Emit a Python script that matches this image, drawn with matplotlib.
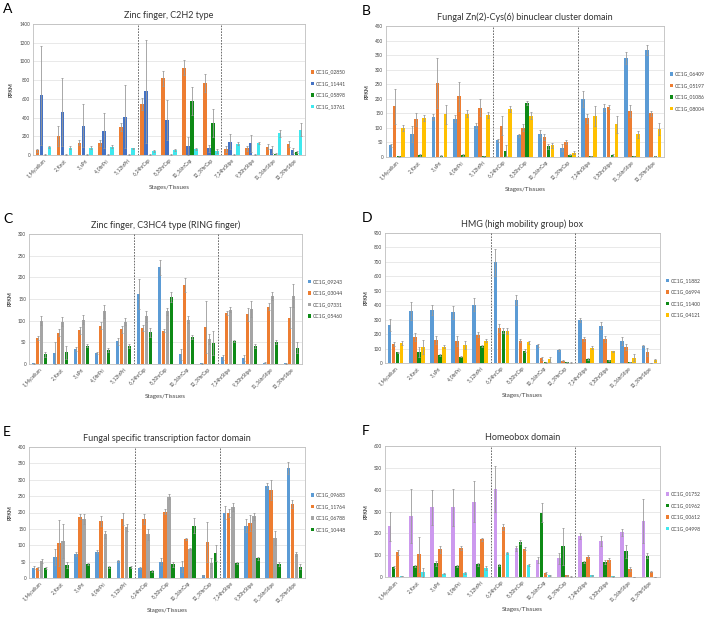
import numpy as np
import matplotlib
matplotlib.use("Agg")
import matplotlib.pyplot as plt

plt.rcParams['font.family'] = ['Lato', 'DejaVu Sans']

stages = ["1_Mycelium", "2_Knot", "3_sPri", "4_0hrPri", "5_12hrPri",
          "6_24hrCap", "8_30hrCap", "10_36hrCap", "12_39hrCap",
          "7_24hrStipe", "9_30hrStipe", "11_36hrStipe", "13_39hrStipe"]

# A: Zinc finger, C2H2 type
a_names = ["CC1G_02850", "CC1G_11441", "CC1G_05898", "CC1G_13761"]
a_vals = [[50, 200, 130, 125, 300, 545, 820, 935, 770, 65, 70, 90, 120],
          [640, 460, 315, 260, 410, 680, 370, 100, 70, 140, 125, 60, 50],
          [5, 5, 5, 5, 5, 5, 5, 575, 340, 5, 5, 15, 30],
          [85, 80, 80, 90, 70, 45, 50, 60, 40, 120, 125, 230, 270]]
a_err = [[15, 105, 25, 30, 40, 65, 80, 75, 95, 30, 25, 25, 30],
         [530, 365, 230, 190, 340, 550, 215, 95, 40, 80, 90, 40, 30],
         [2, 2, 2, 2, 2, 2, 2, 150, 150, 2, 2, 5, 8],
         [10, 20, 15, 15, 10, 10, 10, 10, 20, 15, 10, 35, 70]]

# B: Fungal Zn(2)-Cys(6) binuclear cluster domain
b_names = ["CC1G_06409", "CC1G_05197", "CC1G_01086", "CC1G_08004"]
b_vals = [[40, 80, 138, 132, 108, 57, 75, 80, 32, 200, 170, 340, 368],
          [175, 130, 255, 208, 170, 107, 100, 70, 50, 133, 172, 158, 150],
          [2, 7, 5, 8, 2, 22, 185, 37, 8, 3, 8, 3, 3],
          [100, 133, 147, 148, 143, 166, 142, 40, 15, 140, 112, 78, 97]]
b_err = [[5, 28, 10, 12, 10, 5, 5, 12, 13, 28, 12, 20, 17],
         [60, 22, 85, 50, 28, 33, 12, 10, 7, 15, 8, 20, 8],
         [1, 3, 2, 4, 1, 20, 8, 8, 2, 1, 3, 1, 1],
         [10, 10, 32, 12, 10, 10, 13, 8, 5, 35, 30, 12, 20]]

# C: Zinc finger, C3HC4 type (RING finger)
c_names = ["CC1G_09243", "CC1G_03044", "CC1G_07331", "CC1G_05460"]
c_vals = [[2, 25, 35, 25, 52, 162, 223, 22, 2, 15, 13, 3, 2],
          [60, 72, 78, 88, 80, 83, 77, 182, 85, 118, 115, 132, 107],
          [100, 98, 102, 122, 98, 110, 122, 102, 57, 125, 127, 157, 158],
          [22, 27, 42, 32, 42, 73, 155, 62, 48, 53, 42, 50, 38]]
c_err = [[1, 25, 5, 3, 8, 35, 18, 13, 1, 6, 7, 1, 1],
         [5, 8, 8, 8, 8, 7, 3, 16, 60, 5, 15, 8, 25],
         [10, 10, 10, 15, 8, 12, 8, 8, 12, 6, 18, 10, 27],
         [5, 15, 3, 4, 5, 10, 12, 4, 28, 3, 4, 5, 12]]

# D: HMG (high mobility group) box
d_names = ["CC1G_11882", "CC1G_06994", "CC1G_11400", "CC1G_04121"]
d_vals = [[262, 360, 365, 352, 402, 697, 435, 122, 90, 300, 258, 155, 120],
          [130, 180, 160, 155, 195, 240, 155, 33, 15, 165, 165, 112, 75],
          [73, 78, 55, 45, 118, 225, 85, 5, 5, 28, 20, 8, 2],
          [140, 112, 112, 125, 155, 222, 145, 25, 3, 105, 80, 37, 20]]
d_err = [[40, 60, 35, 45, 45, 95, 35, 10, 5, 15, 25, 28, 8],
         [15, 28, 28, 35, 18, 28, 10, 10, 3, 15, 20, 20, 28],
         [5, 35, 5, 5, 10, 20, 10, 2, 2, 5, 3, 2, 1],
         [15, 50, 10, 25, 10, 22, 10, 15, 1, 10, 5, 22, 5]]

# E: Fungal specific transcription factor domain
e_names = ["CC1G_09683", "CC1G_11764", "CC1G_06788", "CC1G_10448"]
e_vals = [[32, 65, 73, 80, 53, 32, 50, 35, 8, 200, 160, 282, 335],
          [30, 108, 187, 175, 180, 180, 203, 118, 110, 198, 168, 268, 225],
          [52, 113, 180, 133, 155, 133, 248, 90, 45, 217, 188, 122, 73],
          [32, 40, 42, 35, 33, 22, 42, 160, 77, 47, 60, 43, 35]]
e_err = [[5, 25, 5, 5, 3, 3, 10, 18, 2, 20, 20, 8, 18],
         [5, 70, 8, 15, 18, 15, 7, 3, 60, 12, 25, 30, 12],
         [5, 52, 15, 12, 10, 18, 8, 3, 15, 12, 12, 22, 5],
         [3, 10, 3, 3, 3, 3, 8, 22, 25, 3, 5, 5, 8]]

# F: Homeobox domain
f_names = ["CC1G_01752", "CC1G_01962", "CC1G_00612", "CC1G_04998"]
f_vals = [[232, 280, 320, 320, 345, 405, 132, 78, 85, 188, 165, 205, 255],
          [45, 50, 62, 50, 58, 55, 160, 295, 140, 67, 70, 118, 98],
          [113, 105, 127, 133, 172, 228, 130, 18, 8, 92, 78, 37, 25],
          [5, 22, 15, 18, 42, 110, 55, 8, 2, 8, 3, 0, 0]]
f_err = [[65, 125, 80, 85, 95, 105, 12, 12, 25, 15, 25, 15, 100],
         [5, 5, 10, 5, 8, 5, 10, 45, 85, 5, 10, 30, 10],
         [12, 80, 15, 10, 8, 15, 8, 5, 3, 7, 10, 8, 3],
         [1, 20, 3, 3, 8, 5, 3, 2, 1, 2, 1, 0, 0]]

ORANGE = "#ED7D31"
BLUE = "#5B9BD5"
DBLUE = "#4472C4"
GREEN = "#0E8A16"
CYAN = "#3FE8EE"
GOLD = "#FFC000"
GRAY = "#A5A5A5"
VIOLET = "#CC99EE"

panels = [
    ("A", "Zinc finger, C2H2 type", a_names, a_vals, a_err, [ORANGE, DBLUE, GREEN, CYAN],
     1400, 200, (33, 24, 305, 155)),
    ("B", "Fungal Zn(2)-Cys(6) binuclear cluster domain", b_names, b_vals, b_err,
     [BLUE, ORANGE, GREEN, GOLD], 450, 50, (386, 26, 664, 157)),
    ("C", "Zinc finger, C3HC4 type (RING finger)", c_names, c_vals, c_err,
     [BLUE, ORANGE, GRAY, GREEN], 300, 50, (29, 234, 302, 364)),
    ("D", "HMG (high mobility group) box", d_names, d_vals, d_err,
     [BLUE, ORANGE, GREEN, GOLD], 900, 100, (385, 233, 660, 363)),
    ("E", "Fungal specific transcription factor domain", e_names, e_vals, e_err,
     [BLUE, ORANGE, GRAY, GREEN], 400, 50, (29, 447, 305, 578)),
    ("F", "Homeobox domain", f_names, f_vals, f_err,
     [VIOLET, GREEN, ORANGE, CYAN], 600, 100, (385, 446, 660, 577)),
]

W, H = 725, 620
fig = plt.figure(figsize=(W / 100, H / 100), dpi=100)

x = np.arange(len(stages))
slot = 0.19
for letter, title, names, vals, errs, colors, ymax, ystep, (l, t, r, b) in panels:
    ax = fig.add_axes([l / W, 1 - b / H, (r - l) / W, (b - t) / H])
    for i in range(4):
        pos = x + (i - 1.5) * slot
        ax.bar(pos, vals[i], width=slot * 0.9, color=colors[i], label=names[i],
               yerr=errs[i], error_kw=dict(ecolor="#9a9a9a", elinewidth=0.6,
                                          capsize=1.0, capthick=0.6), zorder=3)
    ax.set_xlim(-0.5, len(stages) - 0.5)
    ax.set_ylim(0, ymax)
    ax.set_yticks(np.arange(0, ymax + 1, ystep))
    ax.set_xticks(x)
    ax.set_xticklabels(stages, rotation=45, ha="right", rotation_mode="anchor")
    ax.tick_params(labelsize=3.3, length=0, pad=2, colors="#444444")
    ax.yaxis.grid(True, color="#E0E0E0", lw=0.5, zorder=0)
    for s in ax.spines.values():
        s.set_color("#BFBFBF")
        s.set_linewidth(0.6)
    for xv in (4.5, 8.5):
        ax.axvline(xv, color="#555555", ls=(0, (2, 1.5)), lw=0.6, zorder=4)
    ax.set_ylabel("RPKM", fontsize=3.8, labelpad=4, fontweight="bold", color="#444444")
    ax.set_xlabel("Stages/Tissues", fontsize=4.5, labelpad=3, color="#444444")
    ax.set_title(title, fontsize=6.5, pad=4, color="#333333")
    ax.legend(loc="center left", bbox_to_anchor=(1.005, 0.5), frameon=False,
              fontsize=3.6, handlelength=0.6, handleheight=0.6, handletextpad=0.4,
              labelspacing=1.3, labelcolor="#444444")
    fig.text(362 / W if l > 300 else 3 / W, 1 - (t - 21) / H, letter,
             fontsize=10, va="top", ha="left")

fig.savefig("out.png", dpi=100)
